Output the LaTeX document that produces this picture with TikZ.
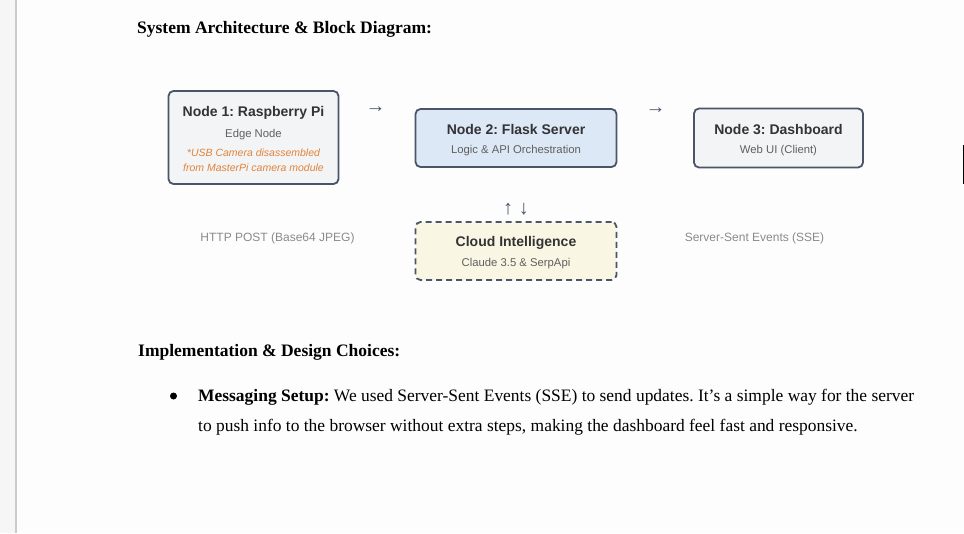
\documentclass[tikz,border=0pt]{standalone}
\usepackage{fontspec}
\setmainfont{Liberation Serif}
\newfontfamily\uisans{Liberation Sans}
\frenchspacing
\definecolor{pagebg}{HTML}{FDFDFD}
\definecolor{gutter}{HTML}{F6F6F7}
\definecolor{rulegray}{HTML}{C9CBCE}
\definecolor{edge}{HTML}{4A5568}
\definecolor{plainfill}{HTML}{F3F4F6}
\definecolor{bluefill}{HTML}{DCE8F5}
\definecolor{creamfill}{HTML}{FAF6E4}
\definecolor{titleink}{HTML}{333333}
\definecolor{subink}{HTML}{5F5F5F}
\definecolor{noteink}{HTML}{E0833A}
\definecolor{labelink}{HTML}{8A8A8A}
\tikzset{
  box/.style={draw=edge, line width=1.8pt, rounded corners=5pt, inner sep=0pt},
  boxtitle/.style={font=\uisans\bfseries\fontsize{14}{16}\selectfont, text=titleink, anchor=base, inner sep=0pt},
  boxsub/.style={font=\uisans\fontsize{11.3}{13}\selectfont, text=subink, anchor=base, inner sep=0pt},
  boxnote/.style={font=\uisans\itshape\fontsize{10.5}{12}\selectfont, text=noteink, anchor=base, inner sep=0pt},
  linklabel/.style={font=\uisans\fontsize{12}{14}\selectfont, text=labelink, anchor=base, inner sep=0pt},
  glyph/.style={font=\uisans\fontsize{20}{22}\selectfont, text=edge, anchor=center, inner sep=0pt},
  heading/.style={font=\bfseries\fontsize{17.5}{20}\selectfont, text=black, anchor=base west, inner sep=0pt},
  body/.style={font=\fontsize{17.45}{20}\selectfont, text=black, anchor=base west, inner sep=0pt}
}
\begin{document}
\begin{tikzpicture}[x=1pt, y=-1pt]
  % page and left gutter
  \fill[pagebg] (0,0) rectangle (964,533);
  \useasboundingbox (0,0) rectangle (964,533);
  \fill[gutter] (0,0) rectangle (15,533);
  \fill[rulegray] (15,0) rectangle (17,533);
  \fill[black] (962.5,145) rectangle (964,184);

  % section heading
  \node[heading] (h1) at (137,33) {System Architecture \& Block Diagram:};

  % blocks
  \node[box, fill=plainfill, minimum width=170pt, minimum height=93pt] (n1) at (253.5,137.5) {};
  \node[box, fill=bluefill, minimum width=201pt, minimum height=58pt] (n2) at (516,138) {};
  \node[box, fill=plainfill, minimum width=169pt, minimum height=59pt] (n3) at (778.5,138) {};
  \node[box, dashed, dash pattern=on 6pt off 4pt, fill=creamfill, minimum width=201pt, minimum height=58pt] (cloud) at (516,251) {};

  % block texts
  \node[boxtitle] (n1t) at (253.5,116) {Node 1: Raspberry Pi};
  \node[boxsub] (n1s) at (253.5,137) {Edge Node};
  \node[boxnote] (n1a) at (253.5,156.5) {*USB Camera disassembled};
  \node[boxnote] (n1b) at (253.5,171) {from MasterPi camera module};

  \node[boxtitle] (n2t) at (516,134) {Node 2: Flask Server};
  \node[boxsub] (n2s) at (516,153.3) {Logic \& API Orchestration};

  \node[boxtitle] (n3t) at (778.5,134) {Node 3: Dashboard};
  \node[boxsub] (n3s) at (778.5,153.3) {Web UI (Client)};

  \node[boxtitle] (ct) at (516,246.7) {Cloud Intelligence};
  \node[boxsub] (cs) at (516,266.7) {Claude 3.5 \& SerpApi};

  % flow glyphs between blocks
  \node[glyph] (a12) at (375.5,110) {→};
  \node[glyph] (a23) at (655.5,111) {→};
  \node[glyph] (a2c) at (516,209) {↑ ↓};

  % link labels
  \node[linklabel] (l1) at (277.5,241.7) {HTTP POST (Base64 JPEG)};
  \node[linklabel] (l2) at (754.5,241.7) {Server-Sent Events (SSE)};

  % design notes
  \node[heading] (h2) at (138,356) {Implementation \& Design Choices:};
  \node[circle, fill=black, inner sep=0pt, minimum size=7pt] (dot) at (173.5,396) {};
  \node[body] (p1) at (198,401.5) {\textbf{Messaging Setup:} We used Server-Sent Events (SSE) to send updates. It’s a simple way for the server};
  \node[body] (p2) at (198,431.5) {to push info to the browser without extra steps, making the dashboard feel fast and responsive.};
\end{tikzpicture}
\end{document}
